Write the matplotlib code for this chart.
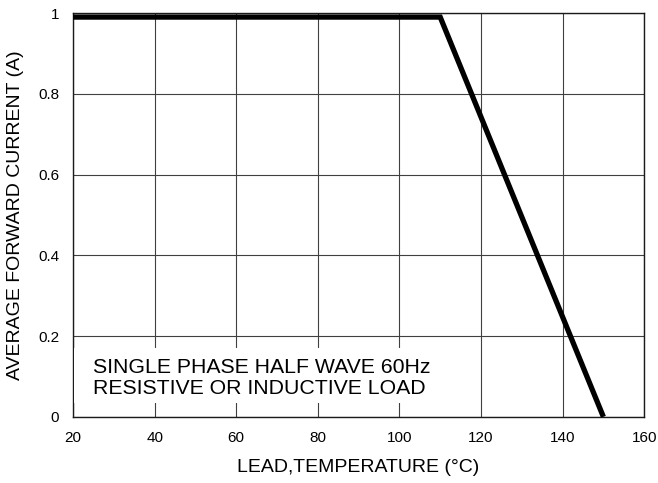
import matplotlib
matplotlib.use('Agg')
import matplotlib.pyplot as plt
from matplotlib.patches import Rectangle

plt.rcParams.update({
    "font.family": "Liberation Sans",
    "font.size": 11,
    "axes.linewidth": 1.0,
})

# derating curve data
temperature = [20, 110, 150]
current = [0.99, 0.99, 0.0]

x_ticks = [20, 40, 60, 80, 100, 120, 140, 160]
y_ticks = [0, 0.2, 0.4, 0.6, 0.8, 1.0]
y_tick_labels = ['0', '0.2', '0.4', '0.6', '0.8', '1']

fig = plt.figure(figsize=(6.58, 4.83), dpi=100)
ax = fig.add_axes([0.111, 0.137, 0.868, 0.836])

ax.plot(temperature, current, color='black', linewidth=3.8,
        solid_capstyle='butt', solid_joinstyle='miter', zorder=5)

ax.set_xlim(20, 160)
ax.set_ylim(0, 1)
ax.set_xticks(x_ticks)
ax.set_yticks(y_ticks)
ax.set_yticklabels(y_tick_labels)
ax.grid(True, color='0.25', linewidth=0.8)
ax.set_axisbelow(True)
ax.tick_params(axis='both', length=0, labelsize=11)
ax.tick_params(axis='x', pad=10)
ax.tick_params(axis='y', pad=10)

for s in ax.spines.values():
    s.set_color('0.1')

ax.set_xlabel('LEAD,TEMPERATURE (°C)', fontsize=14, labelpad=10)
ax.set_ylabel('AVERAGE FORWARD CURRENT (A)', fontsize=14, labelpad=10)

# white note box covering the grid
ax.add_patch(Rectangle((0.002, 0.035), 0.64, 0.136, transform=ax.transAxes,
                       facecolor='white', edgecolor='none', zorder=3))
ax.text(0.035, 0.096, 'SINGLE PHASE HALF WAVE 60Hz\nRESISTIVE OR INDUCTIVE LOAD',
        transform=ax.transAxes, fontsize=15.3, va='center', ha='left',
        linespacing=1.15, zorder=4)

plt.savefig('out.png', dpi=100)
